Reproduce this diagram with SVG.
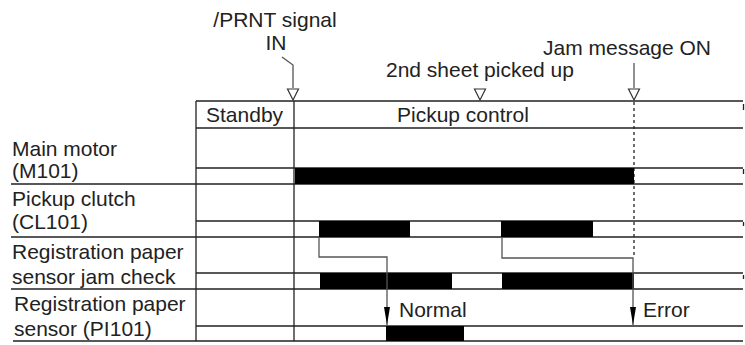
<svg xmlns="http://www.w3.org/2000/svg" width="745" height="345" viewBox="0 0 745 345">
<style>
text{font-family:"Liberation Sans",Arial,Helvetica,sans-serif;font-size:21px;fill:#222}
.ln{stroke:#222;stroke-width:1.3;fill:none}
.gr{stroke:#555;stroke-width:1.3;fill:none}
.bar{fill:#000}
.tri{fill:#fff;stroke:#333;stroke-width:1.2}
.dash{stroke:#222;stroke-width:1.3;stroke-dasharray:3 3;fill:none}
</style>
<defs>
<marker id="ah" viewBox="0 0 18 6" refX="18" refY="3" markerWidth="18" markerHeight="6" markerUnits="userSpaceOnUse" orient="auto">
<path d="M0,0 L18,3 L0,6 Z" fill="#000"/>
</marker>
</defs>
<rect width="745" height="345" fill="#fff"/>

<g id="table">
<path class="ln" d="M196,101 H743 M196,128 H743 M196,168 H743 M11,184 H743 M196,221 H743 M11,237 H743 M196,273 H743 M11,289 H743 M196,326 H743 M13,341 H743"/>
<path class="ln" d="M196,101 V341 M294,101 V341"/>
<path class="ln" d="M743.5,104 V110 M743.5,169 V174 M743.5,222 V226 M743.5,275 V279"/>
<text x="206" y="122">Standby</text>
<text x="397" y="122">Pickup control</text>
</g>

<g id="events">
<text x="275" y="27" text-anchor="middle">/PRNT signal</text>
<text x="276" y="50" text-anchor="middle">IN</text>
<path class="gr" d="M282,57 L293,65 V88"/>
<path class="tri" d="M287.5,89 H298.5 L293,100 Z"/>
<text x="480" y="77" text-anchor="middle">2nd sheet picked up</text>
<path class="tri" d="M474.5,89 H485.5 L480,100 Z"/>
<text x="627" y="55" text-anchor="middle">Jam message ON</text>
<path class="gr" d="M634,63 V88"/>
<path class="tri" d="M628.5,89 H639.5 L634,100 Z"/>
<path class="dash" d="M634,102 V258"/>
</g>

<g id="main-motor">
<text x="12" y="156">Main motor</text>
<text x="12" y="178">(M101)</text>
<rect class="bar" x="295" y="168" width="339" height="16"/>
</g>

<g id="pickup-clutch">
<text x="12" y="206">Pickup clutch</text>
<text x="12" y="229">(CL101)</text>
<rect class="bar" x="319" y="221" width="91" height="16"/>
<rect class="bar" x="501" y="221" width="92" height="16"/>
</g>

<g id="jam-check">
<text x="12" y="259">Registration paper</text>
<text x="12" y="284">sensor jam check</text>
<rect class="bar" x="320" y="273" width="132" height="16"/>
<rect class="bar" x="502" y="273" width="132" height="16"/>
</g>

<g id="reg-sensor">
<text x="14" y="311">Registration paper</text>
<text x="14" y="336">sensor (PI101)</text>
<rect class="bar" x="386" y="326" width="78" height="15"/>
</g>

<g id="connectors">
<path class="gr" d="M319,237 V257 H387 V325" marker-end="url(#ah)"/>
<path class="gr" d="M502,237 V258 H633 V325" marker-end="url(#ah)"/>
<text x="399" y="317">Normal</text>
<text x="643" y="317">Error</text>
</g>
</svg>
